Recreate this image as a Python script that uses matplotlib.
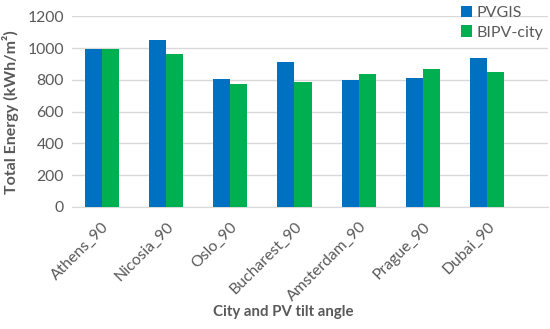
import numpy as np
import matplotlib
matplotlib.use('Agg')
import matplotlib.pyplot as plt

cities = ['Athens_90', 'Nicosia_90', 'Oslo_90', 'Bucharest_90', 'Amsterdam_90', 'Prague_90', 'Dubai_90']
pvgis = [992, 1052, 805, 916, 801, 813, 941]
bipv_city = [996, 964, 774, 788, 837, 868, 847]

plt.rcParams['font.family'] = ['Lato', 'DejaVu Sans']
grey = '#595959'

fig = plt.figure(figsize=(5.5, 3.29), dpi=100)
ax = fig.add_axes([0.131, 0.371, 0.865, 0.579])

x = np.arange(len(cities))
w = 0.265
ax.bar(x - w/2, pvgis, w, color='#0070C0', label='PVGIS', zorder=3)
ax.bar(x + w/2, bipv_city, w, color='#00B050', label='BIPV-city', zorder=3)

ax.set_ylim(0, 1200)
ax.set_yticks(range(0, 1201, 200))
ax.set_xlim(-0.46, 6.94)
ax.set_xticks(x)
ax.set_xticklabels(cities, rotation=45, ha='right', rotation_mode='anchor')
ax.grid(axis='y', color='#D9D9D9', linewidth=1, zorder=0)
for s in ['top', 'right', 'left']:
    ax.spines[s].set_visible(False)
ax.spines['bottom'].set_color('#D9D9D9')
ax.tick_params(axis='both', length=0, labelsize=11.3, colors=grey, pad=6)
ax.tick_params(axis='x', pad=9)

ax.set_ylabel('Total Energy (kWh/m\u00b2)', fontsize=11.5, fontweight='bold', color=grey, labelpad=6)
ax.set_xlabel('City and PV tilt angle', fontsize=10.8, fontweight='bold', color=grey, labelpad=6)
ax.xaxis.set_label_coords(0.443, -0.515)

leg = ax.legend(loc='upper right', bbox_to_anchor=(1.005, 1.09), frameon=False, fontsize=11.5,
                handlelength=0.7, handleheight=0.7, handletextpad=0.3, labelspacing=0.35,
                borderaxespad=0, labelcolor=grey)

fig.savefig('out.png', dpi=100)
